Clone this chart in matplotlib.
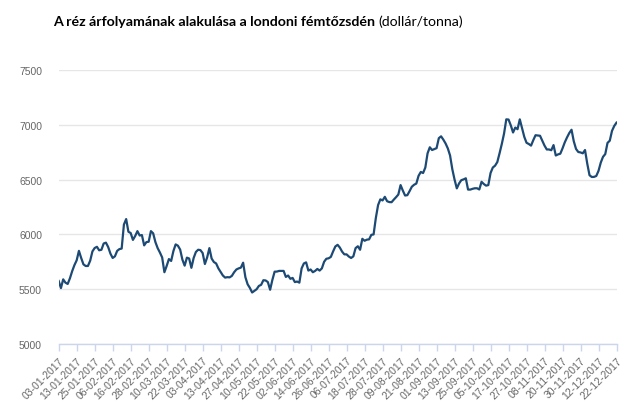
import numpy as np
import matplotlib
matplotlib.use('Agg')
import matplotlib.pyplot as plt

# LME copper price, 2017 (USD / tonne), one value per trading day
prices = [
    5575, 5510, 5590, 5560, 5548, 5600, 5665, 5720, 5764, 5850,
    5785, 5727, 5712, 5712, 5760, 5845, 5876, 5887, 5855, 5860,
    5917, 5925, 5885, 5825, 5785, 5800, 5850, 5866, 5871, 6090,
    6140, 6024, 6013, 5950, 5985, 6030, 5990, 5994, 5900, 5930,
    5933, 6030, 6010, 5930, 5875, 5835, 5790, 5655, 5712, 5775,
    5758, 5848, 5909, 5897, 5862, 5770, 5715, 5788, 5780, 5695,
    5785, 5840, 5860, 5857, 5830, 5730, 5790, 5875, 5780, 5748,
    5735, 5690, 5657, 5625, 5606, 5610, 5608, 5622, 5655, 5680,
    5690, 5697, 5742, 5610, 5545, 5512, 5470, 5485, 5500, 5530,
    5540, 5582, 5580, 5565, 5495, 5585, 5660, 5661, 5667, 5667,
    5667, 5612, 5625, 5595, 5603, 5565, 5570, 5560, 5690, 5735,
    5745, 5670, 5680, 5655, 5667, 5685, 5670, 5690, 5750, 5778,
    5782, 5795, 5845, 5890, 5905, 5880, 5843, 5818, 5818, 5798,
    5785, 5800, 5875, 5892, 5860, 5960, 5942, 5952, 5955, 5996,
    6000, 6150, 6268, 6320, 6310, 6343, 6303, 6295, 6294, 6318,
    6340, 6364, 6450, 6400, 6355, 6358, 6395, 6435, 6453, 6464,
    6535, 6570, 6560, 6610, 6740, 6795, 6770, 6778, 6787, 6878,
    6895, 6865, 6830, 6785, 6720, 6595, 6500, 6420, 6465, 6495,
    6502, 6512, 6409, 6409, 6416, 6421, 6421, 6410, 6480, 6460,
    6445, 6450, 6560, 6610, 6627, 6660, 6740, 6825, 6920, 7050,
    7048, 6995, 6930, 6975, 6960, 7050, 6970, 6890, 6836, 6825,
    6810, 6860, 6905, 6902, 6900, 6855, 6810, 6775, 6775, 6768,
    6815, 6720, 6730, 6736, 6785, 6840, 6885, 6925, 6955, 6850,
    6780, 6752, 6748, 6740, 6770, 6645, 6540, 6524, 6525, 6533,
    6580, 6655, 6708, 6733, 6835, 6855, 6945, 6990, 7020,
]

# every 8th trading day gets a label
tick_labels = [
    '03-01-2017', '13-01-2017', '25-01-2017', '06-02-2017', '16-02-2017',
    '28-02-2017', '10-03-2017', '22-03-2017', '03-04-2017', '13-04-2017',
    '27-04-2017', '10-05-2017', '22-05-2017', '02-06-2017', '14-06-2017',
    '26-06-2017', '06-07-2017', '18-07-2017', '28-07-2017', '09-08-2017',
    '21-08-2017', '01-09-2017', '13-09-2017', '25-09-2017', '05-10-2017',
    '17-10-2017', '27-10-2017', '08-11-2017', '20-11-2017', '30-11-2017',
    '12-12-2017', '22-12-2017',
]
tick_step = 8
y_ticks = [5000, 5500, 6000, 6500, 7000, 7500]

fig = plt.figure(figsize=(6.4, 4.06), dpi=100)
ax = fig.add_axes([0.0917, 0.1502, 0.8716, 0.6749])

x = np.arange(len(prices))
ax.plot(x, prices, color='#1d4a74', lw=1.6, solid_joinstyle='round', zorder=3)

ax.set_xlim(0, len(prices) - 1)
ax.set_ylim(5000, 7500)
ax.set_yticks(y_ticks)
ax.set_yticklabels([str(v) for v in y_ticks])
ax.set_xticks(np.arange(0, len(prices), tick_step))
ax.set_xticklabels(tick_labels, rotation=45, ha='right', va='top',
                   rotation_mode='anchor')

ax.grid(axis='y', color='#e6e6e6', lw=1)
ax.set_axisbelow(True)
for s in ['top', 'right', 'left']:
    ax.spines[s].set_visible(False)
ax.spines['bottom'].set_color('#ccd6eb')
ax.spines['bottom'].set_linewidth(1)

ax.tick_params(axis='y', length=0, pad=12, labelsize=7.5, labelcolor='#666666')
ax.tick_params(axis='x', length=5, width=1, color='#ccd6eb', pad=3,
               labelsize=7.5, labelcolor='#666666')
for lab in ax.get_yticklabels() + ax.get_xticklabels():
    lab.set_family('Liberation Sans')

# title: bold part + normal part on one baseline
title_y = 0.937
t1 = fig.text(0.083, title_y, 'A réz árfolyamának alakulása a londoni fémtőzsdén ',
              fontsize=10.2, fontweight='bold', family='Lato', va='baseline')
fig.canvas.draw()
bb = t1.get_window_extent(renderer=fig.canvas.get_renderer())
fig.text(bb.x1 / fig.bbox.width, title_y, '(dollár/tonna)',
         fontsize=10.2, family='Lato', va='baseline')

plt.savefig('out.png', dpi=100)
